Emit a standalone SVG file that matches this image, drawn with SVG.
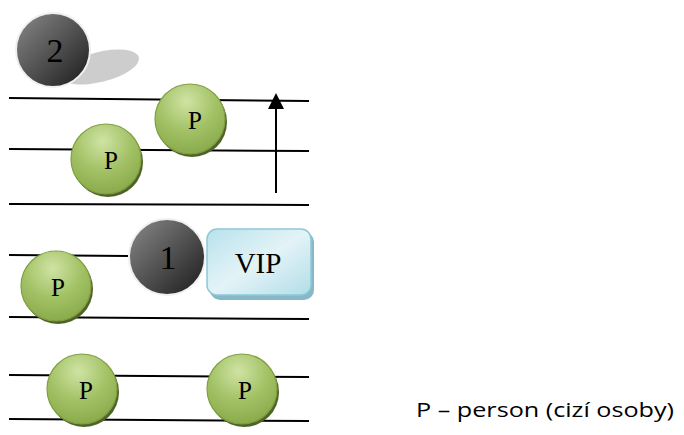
<svg xmlns="http://www.w3.org/2000/svg" width="684" height="435" viewBox="0 0 684 435">
<style>
.ln{stroke:#000;stroke-width:2;fill:none}
.pt{font-family:"Liberation Serif",serif;font-size:25px;fill:#000;text-anchor:middle}
.nt{font-family:"Liberation Serif",serif;font-size:34px;fill:#000;text-anchor:middle}
.leg{font-family:"Open Sans","Liberation Sans",sans-serif;font-size:20px;fill:#000}
</style>
<defs>
<radialGradient id="gG" cx="0.45" cy="0.25" r="0.75">
<stop offset="0" stop-color="#cfe3a4"/>
<stop offset="0.55" stop-color="#a3c266"/>
<stop offset="1" stop-color="#8aab4c"/>
</radialGradient>
<linearGradient id="dG" x1="0" y1="0" x2="1" y2="1">
<stop offset="0" stop-color="#8a8a8a"/>
<stop offset="1" stop-color="#1a1a1a"/>
</linearGradient>
<linearGradient id="bG" x1="0" y1="0" x2="1" y2="1">
<stop offset="0" stop-color="#b8e2ec"/>
<stop offset="0.5" stop-color="#e3f3f7"/>
<stop offset="1" stop-color="#b2dde8"/>
</linearGradient>
<marker id="ah" markerWidth="16" markerHeight="16" refX="14" refY="8" orient="auto" markerUnits="userSpaceOnUse" viewBox="0 0 16 16">
<path d="M0,0 L16,8 L0,16 Z" fill="#000"/>
</marker>
<g id="pc">
<circle cx="2" cy="3" r="35" fill="#4f6228"/>
<circle cx="0" cy="0" r="35" fill="url(#gG)" stroke="#7f9f40" stroke-width="1.2"/>
</g>
</defs>
<g id="lines">
<line class="ln" x1="9" y1="98" x2="309" y2="101"/>
<line class="ln" x1="9" y1="149" x2="309" y2="151"/>
<line class="ln" x1="9" y1="204" x2="309" y2="205"/>
<line class="ln" x1="9" y1="255" x2="128" y2="256"/>
<line class="ln" x1="9" y1="317" x2="309" y2="319"/>
<line class="ln" x1="9" y1="375" x2="309" y2="377"/>
<line class="ln" x1="9" y1="419" x2="309" y2="421"/>
</g>
<g id="node2">
<ellipse cx="100" cy="67" rx="40" ry="15" transform="rotate(-14 100 67)" fill="#cdcdcd"/>
<circle cx="53" cy="50" r="37" fill="url(#dG)" stroke="#f0f0f0" stroke-width="2"/>
<text class="nt" x="55" y="62">2</text>
</g>
<g id="p1"><use href="#pc" x="190" y="119"/><text class="pt" x="195" y="129">P</text></g>
<g id="p2"><use href="#pc" x="106" y="159"/><text class="pt" x="111" y="169">P</text></g>
<g id="connectors">
<line class="ln" x1="276" y1="193" x2="276" y2="95" marker-end="url(#ah)"/>
</g>
<g id="p3"><use href="#pc" x="56" y="286"/><text class="pt" x="58" y="296">P</text></g>
<g id="node1">
<circle cx="167" cy="257" r="38" fill="url(#dG)" stroke="#f0f0f0" stroke-width="2"/>
<text class="nt" x="168" y="269">1</text>
</g>
<g id="vip">
<rect x="210" y="232" width="104" height="68" rx="10" fill="#86b8c8"/>
<rect x="207" y="229" width="104" height="66" rx="10" fill="url(#bG)" stroke="#8ec8d8" stroke-width="1.5"/>
<text x="258" y="273" font-family="Liberation Serif, serif" font-size="29" text-anchor="middle">VIP</text>
</g>
<g id="p4"><use href="#pc" x="82" y="389"/><text class="pt" x="86" y="399">P</text></g>
<g id="p5"><use href="#pc" x="242" y="389"/><text class="pt" x="245" y="399">P</text></g>
<text class="leg" x="416" y="417" textLength="258" lengthAdjust="spacingAndGlyphs">P – person (cizí osoby)</text>
</svg>
